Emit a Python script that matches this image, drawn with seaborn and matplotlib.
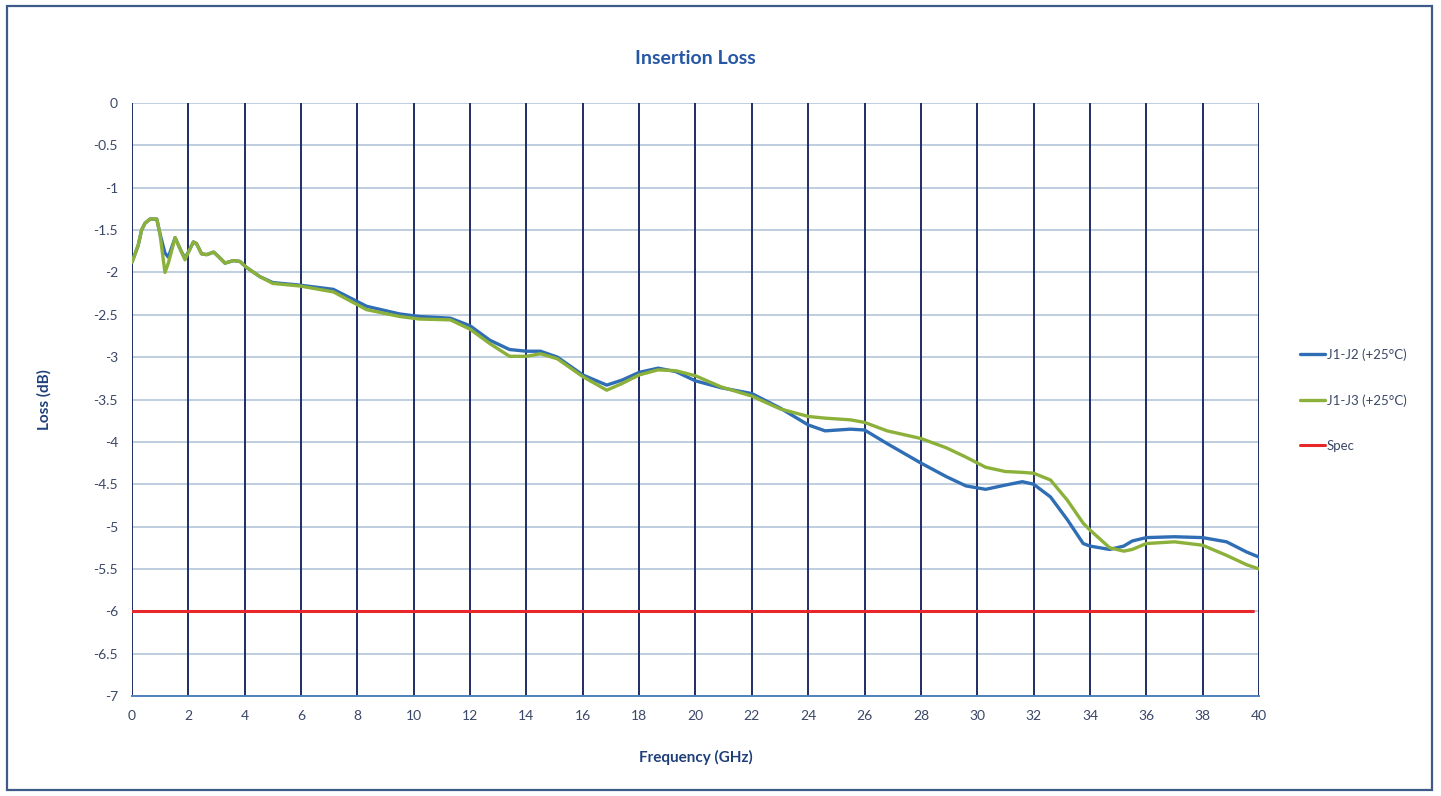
import numpy as np
import pandas as pd
import matplotlib
matplotlib.use("Agg")
import matplotlib.pyplot as plt
from matplotlib.patches import Rectangle
import seaborn as sns

sns.set_theme(style="white")
plt.rcParams['font.family'] = ['Lato', 'DejaVu Sans']

# frequency points (GHz)
freq = [0, 0.22, 0.34, 0.46, 0.64, 0.88, 0.99, 1.17, 1.29, 1.53, 1.76, 1.88, 2.0, 2.18,
        2.29, 2.47, 2.65, 2.9, 3.06, 3.3, 3.6, 3.83, 4.06, 4.54, 5.0, 5.96, 7.15, 8.33,
        9.5, 10.2, 11.3, 12, 12.7, 13.4, 14, 14.5, 15.1, 16, 16.85, 17.4, 18, 18.67,
        19.3, 20, 20.9, 22, 23, 24, 24.6, 25.5, 26, 26.8, 28, 28.9, 29.6, 30.3, 31,
        31.6, 32, 32.6, 33.2, 33.76, 34, 34.7, 35.2, 35.5, 36, 37, 38, 38.85, 39.56, 40]

j1_j2 = [-1.88, -1.68, -1.50, -1.42, -1.37, -1.37, -1.54, -1.77, -1.82, -1.59, -1.76,
         -1.83, -1.76, -1.64, -1.66, -1.78, -1.79, -1.76, -1.81, -1.89, -1.86, -1.87,
         -1.94, -2.05, -2.12, -2.15, -2.20, -2.40, -2.49, -2.52, -2.54, -2.63, -2.80,
         -2.91, -2.93, -2.93, -3.00, -3.21, -3.33, -3.27, -3.18, -3.13, -3.17, -3.28,
         -3.36, -3.43, -3.60, -3.80, -3.87, -3.85, -3.86, -4.02, -4.25, -4.41, -4.52,
         -4.56, -4.51, -4.47, -4.50, -4.65, -4.92, -5.20, -5.23, -5.27, -5.23, -5.17,
         -5.13, -5.12, -5.13, -5.18, -5.30, -5.36]

j1_j3 = [-1.88, -1.68, -1.50, -1.42, -1.37, -1.37, -1.54, -2.00, -1.89, -1.59, -1.76,
         -1.85, -1.76, -1.64, -1.66, -1.78, -1.79, -1.76, -1.81, -1.89, -1.86, -1.87,
         -1.94, -2.05, -2.13, -2.16, -2.23, -2.44, -2.52, -2.55, -2.56, -2.67, -2.84,
         -2.99, -2.99, -2.96, -3.02, -3.23, -3.39, -3.31, -3.21, -3.15, -3.16, -3.22,
         -3.35, -3.46, -3.61, -3.70, -3.72, -3.74, -3.77, -3.87, -3.96, -4.07, -4.18,
         -4.30, -4.35, -4.36, -4.37, -4.45, -4.69, -4.96, -5.04, -5.25, -5.29, -5.27,
         -5.20, -5.18, -5.22, -5.34, -5.45, -5.50]

spec_freq = [0, 39.8]
spec_loss = [-6, -6]

x_ticks = list(range(0, 41, 2))
y_ticks = [0, -0.5, -1, -1.5, -2, -2.5, -3, -3.5, -4, -4.5, -5, -5.5, -6, -6.5, -7]

navy = '#1F2D66'
title_blue = '#2557A5'
tick_col = '#3A4766'

fig = plt.figure(figsize=(14.41, 7.96), dpi=100)
ax = fig.add_axes([0.0916, 0.1256, 0.7821, 0.745])

# horizontal grid (light) and vertical grid (dark navy)
for yv in y_ticks:
    ax.axhline(yv, color='#B9CADC', lw=1.3, zorder=1)
for xv in x_ticks:
    ax.axvline(xv, color=navy, lw=1.4, zorder=1)

sns.lineplot(x=freq, y=j1_j2, ax=ax, color='#2F6DB5', lw=2.4, label='J1-J2 (+25°C)', zorder=3)
sns.lineplot(x=freq, y=j1_j3, ax=ax, color='#8CB13A', lw=2.4, label='J1-J3 (+25°C)', zorder=4)
sns.lineplot(x=spec_freq, y=spec_loss, ax=ax, color='#E8272B', lw=2.2, label='Spec', zorder=3)

ax.set_xlim(0, 40)
ax.set_ylim(-7, 0)
ax.set_xticks(x_ticks)
ax.set_yticks(y_ticks)
ax.set_yticklabels([f'{v:g}' for v in y_ticks])
ax.tick_params(axis='both', length=0, labelsize=10, colors=tick_col, pad=10)

for s in ['top', 'right', 'left']:
    ax.spines[s].set_visible(False)
ax.spines['bottom'].set_color('#4F81BD')
ax.spines['bottom'].set_linewidth(1.4)

ax.set_title('Insertion Loss', fontsize=14, fontweight='bold', color=title_blue, pad=28)
ax.set_xlabel('Frequency (GHz)', fontsize=11, fontweight='bold', color='#1F3F7A', labelpad=20)
ax.set_ylabel('Loss (dB)', fontsize=11, fontweight='bold', color='#1F3F7A', labelpad=30)

ax.legend_.remove()
handles, labels = ax.get_legend_handles_labels()
fig.legend(handles, labels, loc='center left', bbox_to_anchor=(0.902, 0.4975),
           frameon=False, fontsize=9.5, labelcolor=tick_col, handlelength=1.9,
           handletextpad=0.15, labelspacing=2.5, borderpad=0, borderaxespad=0)

# outer chart frame
fig.patches.append(Rectangle((0.005, 0.007), 0.989, 0.986, transform=fig.transFigure,
                             fill=False, edgecolor='#3E5A88', lw=1.6))

fig.savefig('out.png', dpi=100)
